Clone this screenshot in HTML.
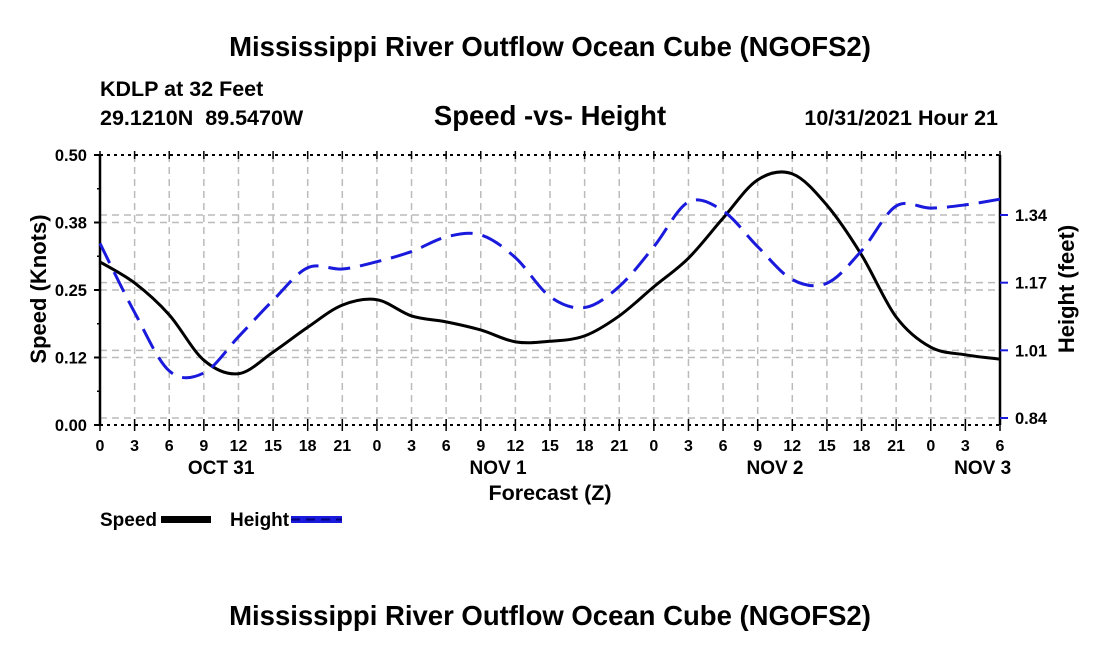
<!DOCTYPE html>
<html><head><meta charset="utf-8"><style>
html,body{margin:0;padding:0;background:#fff;}
svg{display:block;font-family:"Liberation Sans",sans-serif;font-weight:bold;}
</style></head><body>
<svg id="chart" width="1100" height="650" viewBox="0 0 1100 650">
<text x="550" y="56" text-anchor="middle" font-size="27.5">Mississippi River Outflow Ocean Cube (NGOFS2)</text>
<text x="100" y="96" font-size="21.5">KDLP at 32 Feet</text>
<text x="100" y="125" font-size="21.5" xml:space="preserve">29.1210N  89.5470W</text>
<text x="550" y="125" text-anchor="middle" font-size="27.5">Speed -vs- Height</text>
<text x="998" y="125" text-anchor="end" font-size="21.5">10/31/2021 Hour 21</text>
<g id="grid"></g>
<g id="axes"></g>
<g id="series"></g>
<text transform="translate(46,289) rotate(-90)" text-anchor="middle" font-size="22">Speed (Knots)</text>
<text transform="translate(1074,289) rotate(-90)" text-anchor="middle" font-size="22">Height (feet)</text>
<text x="550" y="500" text-anchor="middle" font-size="21.5">Forecast (Z)</text>
<g>
<text x="100" y="526" font-size="19">Speed</text>
<rect x="161" y="516" width="50" height="7" fill="#000"/>
<text x="230" y="526" font-size="19">Height</text>
<rect x="291" y="516" width="51" height="7" fill="#1a1adc"/>
<line x1="291" y1="519.5" x2="342" y2="519.5" stroke="#000080" stroke-width="2" stroke-dasharray="9,6"/>
</g>
<text x="550" y="625" text-anchor="middle" font-size="27.5">Mississippi River Outflow Ocean Cube (NGOFS2)</text>
</svg>
<script>
const hourLabels=["0","3","6","9","12","15","18","21","0","3","6","9","12","15","18","21","0","3","6","9","12","15","18","21","0","3","6"];
const dayLabels=["OCT 31","NOV 1","NOV 2","NOV 3"];
const dayLabelIdx=[3.5,11.5,19.5,25.5];
const speedTicks=[0,0.125,0.25,0.375,0.5];
const speedTickLabels=["0.00","0.12","0.25","0.38","0.50"];
const heightTicks=[0.84,1.0067,1.1733,1.34];
const heightTickLabels=["0.84","1.01","1.17","1.34"];
const speedValues=[0.302,0.263,0.204,0.120,0.095,0.135,0.181,0.222,0.232,0.202,0.191,0.176,0.154,0.155,0.165,0.202,0.256,0.309,0.383,0.454,0.465,0.407,0.315,0.200,0.144,0.130,0.122];
const heightValues=[1.27,1.10,0.956,0.951,1.04,1.13,1.21,1.207,1.225,1.25,1.286,1.291,1.235,1.139,1.112,1.164,1.262,1.372,1.350,1.262,1.181,1.172,1.252,1.362,1.357,1.365,1.379];

const NS="http://www.w3.org/2000/svg";
const X0=100,X1=1000,Y0=155,Y1=425;
const n=hourLabels.length;
const xS=i=>X0+(X1-X0)*i/(n-1);
const yS=v=>Y1-(Y1-Y0)*v/0.5;
const yH=h=>418-(h-0.84)*406;
function mk(tag,attrs,parent){const e=document.createElementNS(NS,tag);for(const k in attrs)e.setAttribute(k,attrs[k]);parent.appendChild(e);return e;}
const grid=document.getElementById('grid'),axes=document.getElementById('axes'),series=document.getElementById('series');
const gs={stroke:"#bbb","stroke-width":1.5,"stroke-dasharray":"7,5",fill:"none"};
for(let i=1;i<n-1;i++){const l=mk('line',Object.assign({x1:xS(i),x2:xS(i),y1:Y0,y2:Y1},gs),grid);

}
speedTicks.forEach(v=>{if(v>0&&v<0.5){const l=mk('line',Object.assign({x1:X0,x2:X1,y1:yS(v),y2:yS(v)},gs),grid);

}});
heightTicks.forEach(v=>{const l=mk('line',Object.assign({x1:X0,x2:X1,y1:yH(v),y2:yH(v)},gs),grid);

});
mk('line',{x1:X0,x2:X0,y1:Y0,y2:Y1,stroke:"#000","stroke-width":2.5},axes);
mk('line',{x1:X1,x2:X1,y1:Y0,y2:Y1,stroke:"#000","stroke-width":2.5},axes);
mk('line',{x1:X0,x2:X1,y1:Y0,y2:Y0,stroke:"#000","stroke-width":2,"stroke-dasharray":"3,4"},axes);
mk('line',{x1:X0,x2:X1,y1:Y1,y2:Y1,stroke:"#000","stroke-width":2,"stroke-dasharray":"3,4"},axes);
for(let i=0;i<n;i++){const x=xS(i);
mk('line',{x1:x,x2:x,y1:Y1-6,y2:Y1+6,stroke:"#000","stroke-width":1.5},axes);
mk('line',{x1:x,x2:x,y1:Y0-4,y2:Y0+4,stroke:"#000","stroke-width":1.5},axes);
const t=mk('text',{x:x,y:451,"text-anchor":"middle","font-size":16},axes);t.textContent=hourLabels[i];

}
dayLabels.forEach((d,k)=>{const t=mk('text',{x:xS(dayLabelIdx[k]),y:474,"text-anchor":"middle","font-size":19},axes);t.textContent=d;

});
speedTicks.forEach((v,k)=>{const y=yS(v);mk('line',{x1:X0-6,x2:X0,y1:y,y2:y,stroke:"#000","stroke-width":2},axes);
if(k<4)mk('line',{x1:X0-3,x2:X0,y1:yS(v+0.0625),y2:yS(v+0.0625),stroke:"#000","stroke-width":1.5},axes);
const t=mk('text',{x:X0-13,y:y+6,"text-anchor":"end","font-size":16.5},axes);t.textContent=speedTickLabels[k];

});
heightTicks.forEach((v,k)=>{const y=yH(v);mk('line',{x1:X1,x2:X1+8,y1:y,y2:y,stroke:"#1a1adc","stroke-width":2},axes);
const t=mk('text',{x:X1+15,y:y+6,"font-size":16.5},axes);t.textContent=heightTickLabels[k];

});
function smooth(pts){let d="M"+pts[0][0]+","+pts[0][1];
for(let i=0;i<pts.length-1;i++){const p0=pts[Math.max(i-1,0)],p1=pts[i],p2=pts[i+1],p3=pts[Math.min(i+2,pts.length-1)];
d+=" C"+(p1[0]+(p2[0]-p0[0])/6)+","+(p1[1]+(p2[1]-p0[1])/6)+" "+(p2[0]-(p3[0]-p1[0])/6)+","+(p2[1]-(p3[1]-p1[1])/6)+" "+p2[0]+","+p2[1];}
return d;}
const sp=mk('path',{d:smooth(speedValues.map((v,i)=>[xS(i),yS(v)])),stroke:"#000","stroke-width":3,fill:"none"},series);


const hp=mk('path',{d:smooth(heightValues.map((v,i)=>[xS(i),yH(v)])),stroke:"#1a1adc","stroke-width":3,fill:"none","stroke-dasharray":"22,10"},series);


</script>
</body></html>
